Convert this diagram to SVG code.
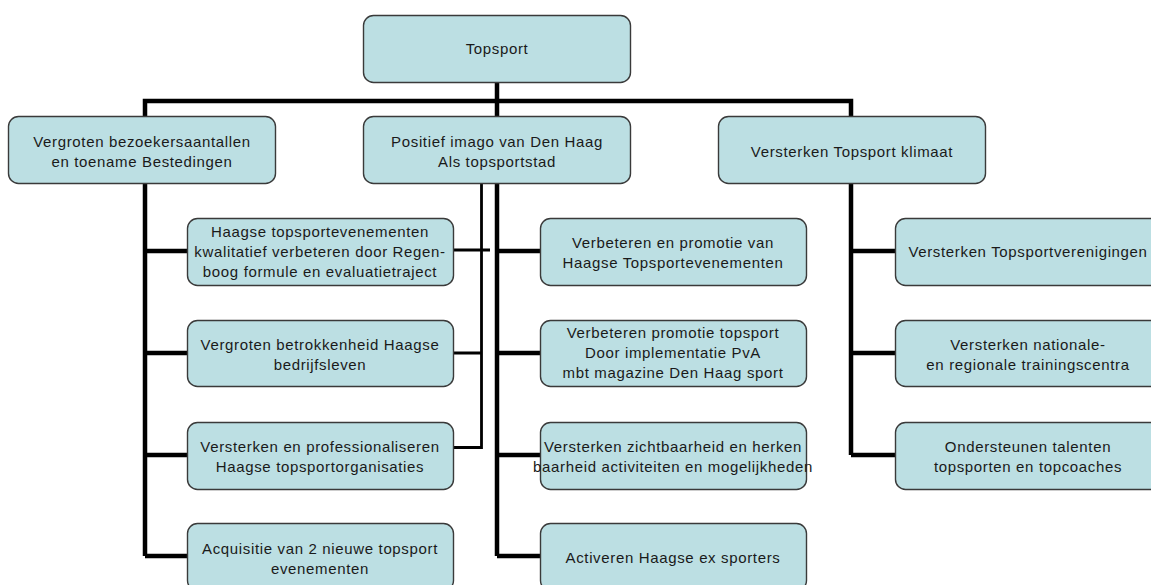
<svg xmlns="http://www.w3.org/2000/svg" width="1151" height="585" viewBox="0 0 1151 585">
  <style>
    .box { fill: #bcdfe3; stroke: #3a3a3a; stroke-width: 1.4; }
    .lbl { font-family: "Liberation Sans", Arial, sans-serif; font-size: 15px; letter-spacing: 0.65px; fill: #1a1a1a; text-anchor: middle; }
    .wire { fill: none; stroke: #000; stroke-width: 4.5; stroke-linecap: butt; stroke-linejoin: miter; }
    .thin { fill: none; stroke: #000; stroke-width: 2.8; stroke-linejoin: miter; }
  </style>
  <rect width="1151" height="585" fill="#ffffff"/>

  <!-- connectors -->
  <g id="connectors">
    <path class="wire" d="M497 82 V117 M145 117 V101 H851 V117"/>
    <!-- left column -->
    <path class="wire" d="M145 183 V556 M145 251 H187 M145 353 H187 M145 455 H187 M145 556 H187"/>
    <!-- middle column -->
    <path class="wire" d="M497 183 V556 M497 251 H540 M497 353 H540 M497 455 H540 M497 556 H540"/>
    <!-- secondary link from Positief imago to left column boxes -->
    <path class="thin" d="M481.5 183 V447.5 H453 M453 353 H481.5 M453 250 H490"/>
    <!-- right column -->
    <path class="wire" d="M851 183 V455 M851 251 H895 M851 353 H895 M851 455 H895"/>
  </g>

  <!-- level 0 -->
  <g id="topsport">
    <rect class="box" x="363.5" y="15.5" width="267" height="67" rx="10"/>
    <text class="lbl" x="497" y="54">Topsport</text>
  </g>

  <!-- level 1 -->
  <g id="bezoekers">
    <rect class="box" x="8.5" y="116.5" width="267" height="67" rx="10"/>
    <text class="lbl" x="142" y="147">Vergroten bezoekersaantallen</text>
    <text class="lbl" x="142" y="167">en toename Bestedingen</text>
  </g>
  <g id="imago">
    <rect class="box" x="363.5" y="116.5" width="267" height="67" rx="10"/>
    <text class="lbl" x="497" y="147">Positief imago van Den Haag</text>
    <text class="lbl" x="497" y="167">Als topsportstad</text>
  </g>
  <g id="klimaat">
    <rect class="box" x="718.5" y="116.5" width="267" height="67" rx="10"/>
    <text class="lbl" x="852" y="157">Versterken Topsport klimaat</text>
  </g>

  <!-- left column -->
  <g id="evenementen-kwaliteit">
    <rect class="box" x="187.5" y="218.5" width="266" height="67" rx="10"/>
    <text class="lbl" x="320" y="237">Haagse topsportevenementen</text>
    <text class="lbl" x="320" y="257">kwalitatief verbeteren door Regen-</text>
    <text class="lbl" x="320" y="277">boog formule en evaluatietraject</text>
  </g>
  <g id="bedrijfsleven">
    <rect class="box" x="187.5" y="320.5" width="266" height="66" rx="10"/>
    <text class="lbl" x="320" y="350">Vergroten betrokkenheid Haagse</text>
    <text class="lbl" x="320" y="370">bedrijfsleven</text>
  </g>
  <g id="organisaties">
    <rect class="box" x="187.5" y="422.5" width="266" height="67" rx="10"/>
    <text class="lbl" x="320" y="452">Versterken en professionaliseren</text>
    <text class="lbl" x="320" y="472">Haagse topsportorganisaties</text>
  </g>
  <g id="acquisitie">
    <rect class="box" x="187.5" y="523.5" width="266" height="67" rx="10"/>
    <text class="lbl" x="320" y="554">Acquisitie van 2 nieuwe topsport</text>
    <text class="lbl" x="320" y="574">evenementen</text>
  </g>

  <!-- middle column -->
  <g id="promotie-evenementen">
    <rect class="box" x="540.5" y="218.5" width="266" height="67" rx="10"/>
    <text class="lbl" x="673" y="248">Verbeteren en promotie van</text>
    <text class="lbl" x="673" y="268">Haagse Topsportevenementen</text>
  </g>
  <g id="promotie-topsport">
    <rect class="box" x="540.5" y="320.5" width="266" height="66" rx="10"/>
    <text class="lbl" x="673" y="338">Verbeteren promotie topsport</text>
    <text class="lbl" x="673" y="358">Door implementatie PvA</text>
    <text class="lbl" x="673" y="378">mbt magazine Den Haag sport</text>
  </g>
  <g id="zichtbaarheid">
    <rect class="box" x="540.5" y="422.5" width="266" height="67" rx="10"/>
    <text class="lbl" x="673" y="452">Versterken zichtbaarheid en herken</text>
    <text class="lbl" x="673" y="472">baarheid activiteiten en mogelijkheden</text>
  </g>
  <g id="ex-sporters">
    <rect class="box" x="540.5" y="523.5" width="266" height="67" rx="10"/>
    <text class="lbl" x="673" y="563">Activeren Haagse ex sporters</text>
  </g>

  <!-- right column -->
  <g id="verenigingen">
    <rect class="box" x="895.5" y="218.5" width="266" height="67" rx="10"/>
    <text class="lbl" x="1028" y="257">Versterken Topsportverenigingen</text>
  </g>
  <g id="trainingscentra">
    <rect class="box" x="895.5" y="320.5" width="266" height="66" rx="10"/>
    <text class="lbl" x="1028" y="350">Versterken nationale-</text>
    <text class="lbl" x="1028" y="370">en regionale trainingscentra</text>
  </g>
  <g id="talenten">
    <rect class="box" x="895.5" y="422.5" width="266" height="67" rx="10"/>
    <text class="lbl" x="1028" y="452">Ondersteunen talenten</text>
    <text class="lbl" x="1028" y="472">topsporten en topcoaches</text>
  </g>
</svg>
